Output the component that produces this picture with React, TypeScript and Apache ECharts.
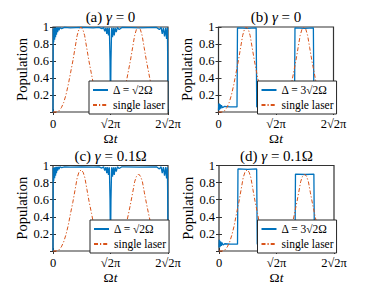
import React, { useEffect, useRef } from 'react';
import * as echarts from 'echarts';

// x in units of sqrt(2)*pi (0..2)
const xTickLabels = ['0', '√2π', '2√2π'];
const panelTitles = ['(a) {i|γ} = 0', '(b) {i|γ} = 0', '(c) {i|γ} = 0.1Ω', '(d) {i|γ} = 0.1Ω'];
const blueNames = ['Δ = √2Ω', 'Δ = 3√2Ω', 'Δ = √2Ω', 'Δ = 3√2Ω'];
const laserName = 'single laser';

const blueA: number[][] = [
  [0, 0], [0.004, 0.98], [0.012, 0.82], [0.02, 0.99], [0.028, 0.85], [0.036, 0.99], [0.044, 0.88],
  [0.052, 0.995], [0.06, 0.91], [0.07, 0.995], [0.08, 0.94], [0.09, 0.995], [0.105, 0.96], [0.12, 0.995],
  [0.15, 0.98], [0.2, 0.995], [0.3, 0.99], [0.5, 0.995], [0.7, 0.99], [0.8, 0.995], [0.85, 0.98],
  [0.88, 0.995], [0.9, 0.95], [0.92, 0.99], [0.935, 0.92], [0.95, 0.99], [0.965, 0.9], [0.98, 0.99],
  [0.992, 0.6], [1.0, 0], [1.008, 0.6], [1.02, 0.99], [1.035, 0.88], [1.05, 0.99], [1.065, 0.9],
  [1.08, 0.99], [1.1, 0.94], [1.12, 0.995], [1.15, 0.97], [1.2, 0.995], [1.5, 0.99], [1.8, 0.995],
  [1.85, 0.97], [1.88, 0.995], [1.9, 0.92], [1.92, 0.99], [1.94, 0.89], [1.96, 0.99], [1.975, 0.86],
  [1.99, 0.99], [1.996, 0.5], [2, 0],
];
const blueB: number[][] = [
  [0, 0.02], [0.005, 0.1], [0.01, 0.02], [0.015, 0.1], [0.02, 0.03], [0.03, 0.09], [0.04, 0.04],
  [0.05, 0.08], [0.07, 0.05], [0.1, 0.065], [0.2, 0.06], [0.322, 0.06], [0.33, 0.99], [0.5, 0.985],
  [0.655, 0.99], [0.665, 0.06], [1.0, 0.06], [1.322, 0.06], [1.33, 0.99], [1.5, 0.985], [1.65, 0.99],
  [1.66, 0.06], [1.95, 0.06], [1.97, 0.08], [1.98, 0.03], [1.99, 0.1], [2, 0.02],
];
const blueC: number[][] = [
  [0, 0], [0.004, 0.97], [0.012, 0.82], [0.02, 0.98], [0.028, 0.85], [0.036, 0.98], [0.044, 0.88],
  [0.052, 0.985], [0.06, 0.91], [0.07, 0.985], [0.08, 0.94], [0.09, 0.985], [0.105, 0.955], [0.12, 0.985],
  [0.15, 0.975], [0.2, 0.985], [0.3, 0.98], [0.5, 0.985], [0.7, 0.98], [0.8, 0.985], [0.85, 0.97],
  [0.88, 0.985], [0.9, 0.94], [0.92, 0.98], [0.935, 0.91], [0.95, 0.98], [0.965, 0.89], [0.98, 0.98],
  [0.992, 0.6], [1.0, 0], [1.008, 0.6], [1.02, 0.98], [1.035, 0.87], [1.05, 0.98], [1.065, 0.89],
  [1.08, 0.98], [1.1, 0.93], [1.12, 0.985], [1.15, 0.965], [1.2, 0.985], [1.5, 0.98], [1.8, 0.985],
  [1.85, 0.96], [1.88, 0.985], [1.9, 0.91], [1.92, 0.98], [1.94, 0.88], [1.96, 0.98], [1.975, 0.85],
  [1.99, 0.98], [1.996, 0.5], [2, 0],
];
const blueD: number[][] = [
  [0, 0.04], [0.005, 0.13], [0.01, 0.04], [0.015, 0.12], [0.02, 0.05], [0.03, 0.11], [0.04, 0.06],
  [0.05, 0.1], [0.07, 0.07], [0.1, 0.085], [0.2, 0.08], [0.322, 0.08], [0.33, 0.96], [0.5, 0.955],
  [0.655, 0.96], [0.665, 0.08], [1.0, 0.08], [1.322, 0.08], [1.33, 0.9], [1.5, 0.895], [1.65, 0.9],
  [1.66, 0.08], [1.95, 0.08], [1.97, 0.11], [1.98, 0.06], [1.99, 0.19], [2, 0.1],
];
const laserNoDecay: number[][] = [
  [0, 0], [0.065, 0], [0.105, 0.015], [0.145, 0.05], [0.185, 0.11], [0.225, 0.2], [0.265, 0.32],
  [0.305, 0.46], [0.345, 0.6], [0.385, 0.76], [0.42, 0.9], [0.45, 0.97], [0.485, 1], [0.52, 0.97],
  [0.55, 0.9], [0.585, 0.76], [0.625, 0.6], [0.665, 0.46], [0.705, 0.32], [0.745, 0.2], [0.785, 0.11],
  [0.825, 0.05], [0.865, 0.015], [0.905, 0], [1.065, 0], [1.105, 0.015], [1.145, 0.05], [1.185, 0.11],
  [1.225, 0.2], [1.265, 0.32], [1.305, 0.46], [1.345, 0.6], [1.385, 0.76], [1.42, 0.9], [1.45, 0.97],
  [1.485, 1], [1.52, 0.97], [1.55, 0.9], [1.585, 0.76], [1.625, 0.6], [1.665, 0.46], [1.705, 0.32],
  [1.745, 0.2], [1.785, 0.11], [1.825, 0.05], [1.865, 0.015], [1.905, 0], [2, 0],
];
const laserDecay: number[][] = [
  [0, 0], [0.065, 0], [0.105, 0.014], [0.145, 0.048], [0.185, 0.105], [0.225, 0.19], [0.265, 0.3],
  [0.305, 0.44], [0.345, 0.57], [0.385, 0.72], [0.42, 0.855], [0.45, 0.92], [0.49, 0.95], [0.525, 0.92],
  [0.555, 0.855], [0.59, 0.72], [0.63, 0.57], [0.67, 0.44], [0.71, 0.3], [0.75, 0.19], [0.79, 0.105],
  [0.83, 0.048], [0.87, 0.014], [0.91, 0.005], [1.065, 0.005], [1.105, 0.013], [1.145, 0.045], [1.185, 0.1],
  [1.225, 0.18], [1.265, 0.29], [1.305, 0.41], [1.345, 0.54], [1.385, 0.68], [1.42, 0.81], [1.45, 0.87],
  [1.49, 0.9], [1.525, 0.87], [1.555, 0.81], [1.59, 0.68], [1.63, 0.54], [1.67, 0.41], [1.71, 0.29],
  [1.75, 0.18], [1.79, 0.1], [1.83, 0.045], [1.87, 0.013], [1.91, 0.004], [2, 0.004],
];

const blueSeries = [blueA, blueB, blueC, blueD];
const laserSeries = [laserNoDecay, laserNoDecay, laserDecay, laserDecay];

const FONT = 'Liberation Serif';
const AX = '#333333';
const BLUE = '#0072BD';
const ORANGE = '#D95319';

const grids = [
  { left: 53, top: 27, width: 115, height: 85 },
  { left: 218.5, top: 27, width: 115, height: 85 },
  { left: 53, top: 165.5, width: 115, height: 85.5 },
  { left: 219, top: 165.5, width: 115, height: 85.5 },
];
const legendPos = [
  { left: 89, top: 81 },
  { left: 257.5, top: 81 },
  { left: 90, top: 220 },
  { left: 257.5, top: 220 },
];

export default function App() {
  const ref = useRef<HTMLDivElement>(null);
  useEffect(() => {
    if (!ref.current) return;
    const chart = echarts.init(ref.current, undefined, { renderer: 'svg' });
    const xAxes: any[] = [];
    const yAxes: any[] = [];
    const series: any[] = [];
    const legends: any[] = [];
    const graphics: any[] = [];
    const tick = { show: true, inside: true, length: 3, lineStyle: { color: AX, width: 1 } };
    grids.forEach((g, i) => {
      xAxes.push({
        type: 'value', gridIndex: i, min: 0, max: 2, interval: 1,
        axisLine: { show: false }, axisTick: tick, splitLine: { show: false },
        axisLabel: {
          show: true, margin: 5, fontFamily: FONT, fontSize: 12.5, color: '#000',
          formatter: (v: number) => xTickLabels[Math.round(v)] ?? '',
          showMinLabel: true, showMaxLabel: true,
        },
        name: '{n|Ω}{i|t}', nameLocation: 'middle', nameGap: 19,
        nameTextStyle: {
          fontFamily: FONT, fontSize: 13.5, color: '#000',
          rich: {
            n: { fontFamily: FONT, fontSize: 13.5, color: '#000' },
            i: { fontFamily: FONT, fontSize: 13.5, color: '#000', fontStyle: 'italic' },
          },
        },
      });
      yAxes.push({
        type: 'value', gridIndex: i, min: 0, max: 1, interval: 0.2,
        axisLine: { show: false }, axisTick: tick, splitLine: { show: false },
        axisLabel: {
          show: true, margin: 4, fontFamily: FONT, fontSize: 12.5, color: '#000',
          formatter: (v: number) => (v === 0 ? '' : String(Math.round(v * 10) / 10)),
        },
        name: 'Population', nameLocation: 'middle', nameGap: 24, nameRotate: 90,
        nameTextStyle: { fontFamily: FONT, fontSize: 14.5, color: '#000' },
      });
      series.push({
        type: 'line', name: blueNames[i], xAxisIndex: i, yAxisIndex: i,
        data: blueSeries[i], showSymbol: false, symbol: 'none', clip: false,
        lineStyle: { color: BLUE, width: 1.3 }, itemStyle: { color: BLUE },
      });
      series.push({
        type: 'line', name: laserName, xAxisIndex: i, yAxisIndex: i,
        data: laserSeries[i], showSymbol: false, symbol: 'none', clip: false,
        lineStyle: { color: ORANGE, width: 1, type: [4, 2, 1.2, 2] }, itemStyle: { color: ORANGE },
      });
      legends.push({
        orient: 'vertical', left: legendPos[i].left, top: legendPos[i].top,
        data: [blueNames[i], laserName], selectedMode: false,
        itemWidth: 15, itemHeight: 8, itemGap: 3, padding: [3, 3, 3, 3],
        borderColor: '#262626', borderWidth: 1, backgroundColor: '#fff',
        itemStyle: { color: 'transparent', borderColor: 'transparent', borderWidth: 0, opacity: 0 },
        textStyle: { fontFamily: FONT, fontSize: 11.5, color: '#000' },
      });
      graphics.push({
        type: 'text', x: g.left + g.width / 2, y: g.top - 10,
        style: {
          text: panelTitles[i], textAlign: 'center', textVerticalAlign: 'middle',
          fontFamily: FONT, fontSize: 15, fill: '#000',
          rich: { i: { fontFamily: FONT, fontSize: 15, fontStyle: 'italic', fill: '#000' } },
        },
      });
    });
    // mirror axes for ticks on top and right
    grids.forEach((g, i) => {
      xAxes.push({
        type: 'value', gridIndex: i, min: 0, max: 2, interval: 1, position: 'top',
        axisLine: { show: false }, axisTick: tick, axisLabel: { show: false }, splitLine: { show: false },
      });
      yAxes.push({
        type: 'value', gridIndex: i, min: 0, max: 1, interval: 0.2, position: 'right',
        axisLine: { show: false }, axisTick: tick, axisLabel: { show: false }, splitLine: { show: false },
      });
    });
    chart.setOption({
      animation: false,
      backgroundColor: '#fff',
      textStyle: { fontFamily: FONT },
      grid: grids.map((g) => ({ ...g, show: true, borderColor: AX, borderWidth: 1.2, backgroundColor: 'transparent' })),
      xAxis: xAxes,
      yAxis: yAxes,
      series,
      legend: legends,
      graphic: graphics,
    });
    return () => chart.dispose();
  }, []);
  return <div ref={ref} style={{ position: 'fixed', left: 0, top: 0, width: 377, height: 293 }} />;
}
